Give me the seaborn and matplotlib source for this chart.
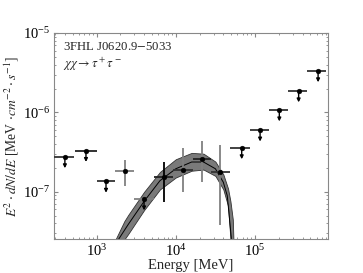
import numpy as np
import pandas as pd
import seaborn as sns
import matplotlib.pyplot as plt

# flux points (MeV, MeV cm^-2 s^-1)
energy = [397, 733, 1313, 2260, 3970, 7000, 12500, 21700, 36500, 68000, 116000, 203000, 356000, 627000]
e_lo = [290, 531, 1000, 1700, 2950, 5250, 9100, 16600, 28200, 49000, 87000, 151000, 263000, 457000]
e_hi = [525, 1000, 1700, 2950, 5250, 9100, 16600, 28200, 49000, 87000, 151000, 263000, 457000, 794000]
flux = [2.75e-7, 3.3e-7, 1.35e-7, 1.81e-7, 8.1e-8, 1.52e-7, 1.9e-7, 2.62e-7, 1.77e-7,
        3.57e-7, 5.97e-7, 1.07e-6, 1.86e-6, 3.33e-6]
flux_lo = [0, 0, 0, 1.17e-7, 0, 7.5e-8, 9.8e-8, 1.31e-7, 3.8e-8, 0, 0, 0, 0, 0]
flux_hi = [0, 0, 0, 2.54e-7, 0, 2.38e-7, 3.57e-7, 4.4e-7, 3.93e-7, 0, 0, 0, 0, 0]
is_ul = [1, 1, 1, 0, 1, 0, 0, 0, 0, 1, 1, 1, 1, 1]
vcolor = ['k', 'k', 'k', '#808080', 'k', 'k', '#808080', '#808080', '#808080', 'k', 'k', 'k', 'k', 'k']
hcolor = ['#333333', '#222222', '#333333', '#808080', '#808080', '#222222', '#333333', '#222222', '#333333',
          '#333333', '#333333', '#333333', '#333333', '#333333']

# dark matter model (log10 E, log10 flux)
model_logE = [3.25, 3.4, 3.6, 3.8, 4.0, 4.2, 4.35, 4.5, 4.6, 4.65, 4.70, 4.72]
model_mid = [-7.64, -7.41, -7.12, -6.86, -6.71, -6.625, -6.625, -6.71, -6.88, -7.05, -7.57, -8.0]
band_logE = [3.2, 3.35, 3.4, 3.6, 3.8, 4.0, 4.2, 4.35, 4.5, 4.6, 4.66, 4.69, 4.72, 4.74]
band_up = [-7.68, -7.37, -7.29, -7.0, -6.75, -6.59, -6.51, -6.52, -6.62, -6.78, -6.96, -7.12, -7.35, -8.0]
band_dn = [-8.0, -7.6, -7.53, -7.23, -6.97, -6.82, -6.735, -6.72, -6.80, -6.97, -7.18, -7.6, -8.0, -8.0]

sns.set_style("ticks")
plt.rcParams['font.family'] = ['Liberation Serif', 'DejaVu Serif']
plt.rcParams['mathtext.fontset'] = 'stix'

fig = plt.figure(figsize=(3.63, 2.73), dpi=100)
ax = fig.add_axes([0.149, 0.1245, 0.755, 0.7545])

ax.fill_between(10 ** np.array(band_logE), 10 ** np.array(band_dn), 10 ** np.array(band_up),
                color='#7a7a7a', edgecolor='#333333', linewidth=0.6, zorder=1)
model = pd.DataFrame({'E': 10 ** np.array(model_logE), 'F': 10 ** np.array(model_mid)})
sns.lineplot(data=model, x='E', y='F', color='k', linewidth=0.7, ax=ax, zorder=2)

df = pd.DataFrame({'E': energy, 'F': flux})
for i in range(len(energy)):
    xerr = [[energy[i] - e_lo[i]], [e_hi[i] - energy[i]]]
    ax.errorbar(energy[i], flux[i], xerr=xerr, fmt='none', ecolor=hcolor[i], elinewidth=1.3, zorder=3)
    if is_ul[i]:
        ax.annotate('', xy=(energy[i], flux[i] * 0.72), xytext=(energy[i], flux[i]),
                    arrowprops=dict(arrowstyle='-|>', color='k', lw=1.0, mutation_scale=5,
                                    shrinkA=0, shrinkB=0), zorder=3)
    else:
        ax.errorbar(energy[i], flux[i], yerr=[[flux[i] - flux_lo[i]], [flux_hi[i] - flux[i]]],
                    fmt='none', ecolor=vcolor[i], elinewidth=1.3, zorder=3)
sns.scatterplot(data=df, x='E', y='F', color='k', s=12, edgecolor='k', ax=ax, zorder=4)

ax.set_xscale('log')
ax.set_yscale('log')
ax.set_xlim(290, 8.4e5)
ax.set_ylim(2.54e-8, 1e-5)
ax.set_xlabel('Energy [MeV]', fontsize=10.5, labelpad=0)
ax.set_ylabel(r'$E^2 \cdot dN/dE$ [MeV $\cdot cm^{-2} \cdot s^{-1}$]', fontsize=9.8)
ax.yaxis.set_label_coords(-0.12, 0.5)
ax.tick_params(which='both', direction='in', top=True, right=True, colors='#888888',
               labelcolor='k', labelsize=10.5)
ax.tick_params(which='major', length=3, pad=3)
ax.tick_params(which='minor', length=1.5)
for s in ax.spines.values():
    s.set_color('#888888')
    s.set_linewidth(0.8)

ax.text(0.033, 0.934, '3FHL J0620.9$-$5033', transform=ax.transAxes, fontsize=9.2, va='center')
ax.text(0.033, 0.848, r'$\chi\chi \rightarrow \tau^+\tau^-$', transform=ax.transAxes, fontsize=9.2, va='center')

fig.savefig('out.png', dpi=100)
